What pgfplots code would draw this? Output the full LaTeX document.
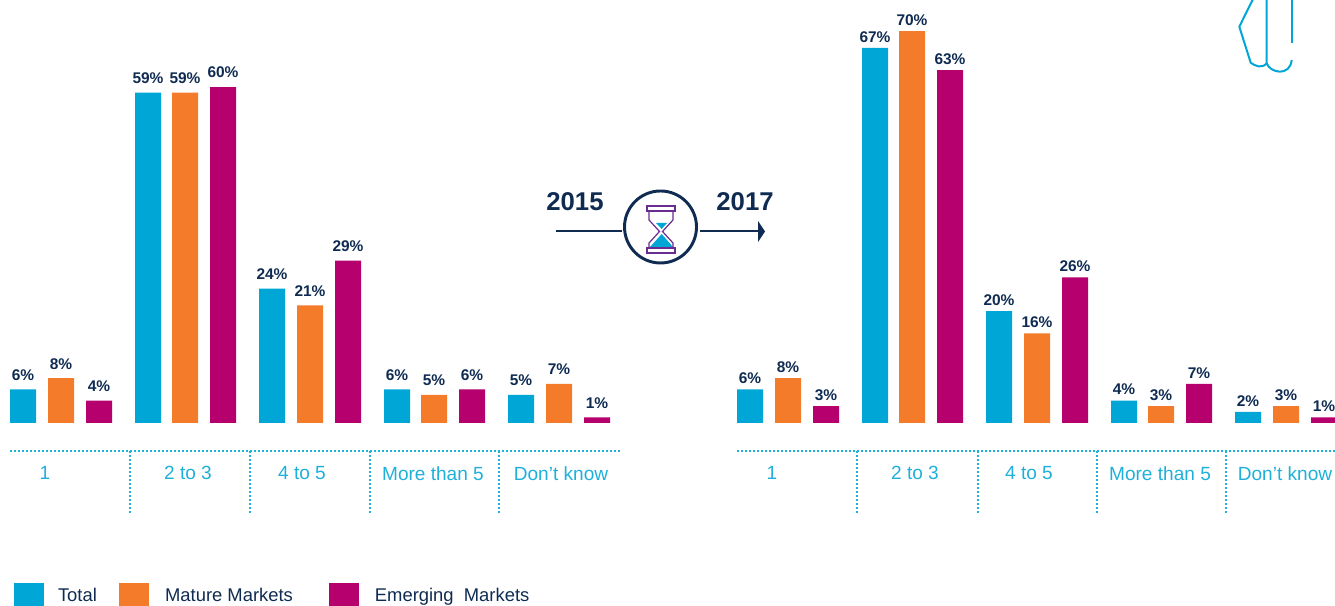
\documentclass[border=0pt]{standalone}
\usepackage{fontspec}
\setmainfont{Liberation Sans}
\usepackage{pgfplots}
\pgfplotsset{compat=1.18}
\definecolor{cTotal}{HTML}{00A7D6}
\definecolor{cMature}{HTML}{F47B2A}
\definecolor{cEmerging}{HTML}{B5006E}
\definecolor{navy}{HTML}{0F2B52}
\definecolor{cTick}{HTML}{1FB0DA}
\definecolor{cPurple}{HTML}{6A2C91}
\pgfplotsset{
  mybar/.style={ybar, bar shift=0pt, bar width=26, draw=none, fill=#1,
    legend image code/.code={\fill[fill=#1,draw=none] (0pt,-8.6pt) rectangle (22.5pt,8.6pt);},
    nodes near coords={\pgfmathprintnumber[assume math mode=true]{\pgfplotspointmeta}\%},
    nodes near coords style={font=\fontsize{11.6}{13}\selectfont\bfseries, text=navy, inner sep=0pt, anchor=south, yshift=6.5pt},
  },
  panel/.style={
    scale only axis, ymin=-5, ymax=75.54, height=338.25pt,
    axis y line=none, axis x line=bottom,
    axis line style={-, draw=cTick, line width=1.5pt, dash pattern=on 1.5pt off 1.5pt},
    x axis line style={-},
    tick style={draw=cTick, line width=1.5pt, dash pattern=on 1.5pt off 1.5pt},
    major tick length=0pt,
    xtick align=outside,
    extra x tick style={major tick length=46.5pt, tick align=outside},
    extra x tick labels={},
    xticklabels={1,2 to 3,4 to 5,More than 5,Don’t know},
    xticklabel style={font=\fontsize{14.3}{16}\selectfont, text=cTick, yshift=-8pt},
    clip=true,
  },
}
\begin{document}
\begin{tikzpicture}
\path[clip,use as bounding box] (0,0) rectangle (1001.25pt,454.5pt);
\begin{axis}[panel, at={(7.5pt,116.25pt)}, anchor=south west,
  width=458.25pt, xmin=10, xmax=621,
  xtick={45,188,302,433,561}, extra x ticks={130,250,370,499},
  legend columns=3, legend cell align=left,
  legend style={at={(axis description cs:0,0)}, anchor=south west, xshift=3pt, yshift=-116.25pt,
    draw=none, fill=none, inner sep=0pt, outer sep=0pt,
    font=\fontsize{13.8}{16}\selectfont, text=navy,
    nodes={inner sep=0pt, anchor=west},
    /tikz/every even column/.append style={column sep=16.5pt}},
]
\addplot[mybar=cTotal] coordinates {(23,6) (148,59) (272,24) (397,6) (521,5)};
\addlegendentry{\hspace{10.5pt}\raisebox{-1.5pt}{Total}}
\addplot[mybar=cMature] coordinates {(61,8) (185,59) (310,21) (434,5) (559,7)};
\addlegendentry{\hspace{12.2pt}\raisebox{-1.5pt}{Mature Markets}\rule{10.5pt}{0pt}}
\addplot[mybar=cEmerging] coordinates {(99,4) (223,60) (348,29) (472,6) (597,1)};
\addlegendentry{\hspace{12pt}\raisebox{-1.5pt}{Emerging\ \ Markets}}
\end{axis}
\begin{axis}[panel, at={(552.75pt,116.25pt)}, anchor=south west,
  width=448.5pt, xmin=737, xmax=1335,
  xtick={772,915,1029,1160,1285}, extra x ticks={857,978,1097,1226},
  nodes near coords style={yshift=-2.5pt},
]
\addplot[mybar=cTotal] coordinates {(750,6) (875,67) (999,20) (1124,4) (1248,2)};
\addplot[mybar=cMature] coordinates {(788,8) (912,70) (1037,16) (1161,3) (1286,3)};
\addplot[mybar=cEmerging] coordinates {(826,3) (950,63) (1075,26) (1199,7) (1324,1)};
\end{axis}
\begin{scope}[x=0.75pt,y=-0.75pt,yshift=454.5pt]
\node[text=navy,font=\fontsize{19.3}{22}\selectfont\bfseries,inner sep=0pt] at (575,202) {2015};
\node[text=navy,font=\fontsize{19.3}{22}\selectfont\bfseries,inner sep=0pt] at (745,202) {2017};
\draw[navy,line width=1.5pt] (556,231.5) -- (622,231.5);
\draw[navy,line width=1.5pt] (700,231.5) -- (759,231.5);
\fill[navy] (758,221) -- (765,231.5) -- (758,242) -- cycle;
\draw[navy,line width=2.2pt] (660.5,227) circle (36);
\fill[cTotal] (656,223) -- (667,223) -- (661.7,229) -- cycle;
\fill[cTotal] (650,247) -- (661.7,234) -- (673,247) -- cycle;
\draw[cPurple,line width=0.9pt] (647,206) rectangle (675,211);
\draw[cPurple,line width=0.9pt] (647,248) rectangle (675,253);
\draw[cPurple,line width=0.9pt] (649,211) -- (649,220) -- (659.5,231.5) -- (649,243) -- (649,248);
\draw[cPurple,line width=0.9pt] (673,211) -- (673,220) -- (662.5,231.5) -- (673,243) -- (673,248);
\draw[cTotal,line width=1.5pt,line join=round] (1253,-1) -- (1239.3,26.7) -- (1250.7,62.7) .. controls (1255,66) and (1262,69) .. (1266.7,63.3);
\draw[cTotal,line width=1.5pt] (1266.7,-1) -- (1266.7,63.3) .. controls (1270,73) and (1290,77) .. (1291.7,60);
\draw[cTotal,line width=1.5pt] (1291.7,-1) -- (1291.7,42.7);
\end{scope}
\end{tikzpicture}
\end{document}
